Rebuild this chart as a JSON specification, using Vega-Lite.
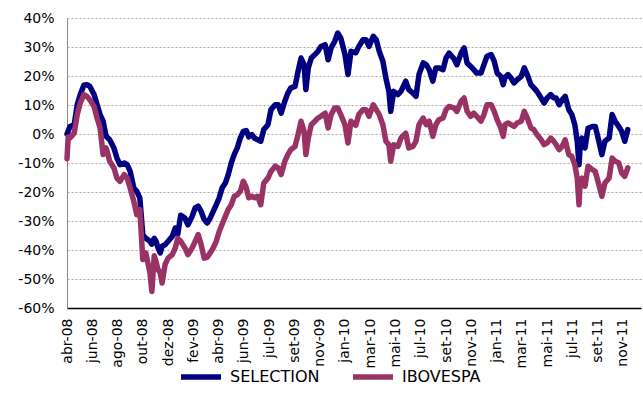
{
  "$schema": "https://vega.github.io/schema/vega-lite/v6.json",
  "width": 574,
  "height": 290,
  "autosize": {"type": "none"},
  "padding": {"left": 67, "top": 18, "right": 2, "bottom": 97},
  "config": {
    "view": {"stroke": null},
    "font": "DejaVu Sans",
    "axis": {"labelFont": "DejaVu Sans", "labelFontSize": 14, "labelColor": "#000000", "title": null}
  },
  "data": {
    "values": [
      {"t":0,"SELECTION":0,"IBOVESPA":-8.5},
      {"t":2,"SELECTION":1,"IBOVESPA":-1},
      {"t":5,"SELECTION":2.6,"IBOVESPA":-1.4},
      {"t":12,"SELECTION":3.2,"IBOVESPA":0.3},
      {"t":17,"SELECTION":10.1,"IBOVESPA":6.7},
      {"t":22,"SELECTION":13.6,"IBOVESPA":10.7},
      {"t":28,"SELECTION":16.8,"IBOVESPA":13.6},
      {"t":33,"SELECTION":17,"IBOVESPA":13},
      {"t":38,"SELECTION":16.4,"IBOVESPA":11.8},
      {"t":45,"SELECTION":13.6,"IBOVESPA":9.5},
      {"t":50,"SELECTION":10.1,"IBOVESPA":5.5},
      {"t":55,"SELECTION":6.7,"IBOVESPA":2.1},
      {"t":60,"SELECTION":4.4,"IBOVESPA":-7.1},
      {"t":65,"SELECTION":-0.8,"IBOVESPA":-4.8},
      {"t":71,"SELECTION":-2,"IBOVESPA":-9.4},
      {"t":78,"SELECTION":-4.8,"IBOVESPA":-11.7},
      {"t":83,"SELECTION":-8.3,"IBOVESPA":-15.2},
      {"t":88,"SELECTION":-10.6,"IBOVESPA":-16.3},
      {"t":95,"SELECTION":-10,"IBOVESPA":-14},
      {"t":100,"SELECTION":-10.6,"IBOVESPA":-15.2},
      {"t":105,"SELECTION":-12.9,"IBOVESPA":-18.6},
      {"t":111,"SELECTION":-18.6,"IBOVESPA":-23.2},
      {"t":116,"SELECTION":-19.8,"IBOVESPA":-27.8},
      {"t":121,"SELECTION":-22,"IBOVESPA":-26},
      {"t":126,"SELECTION":-34.7,"IBOVESPA":-43.3},
      {"t":131,"SELECTION":-36,"IBOVESPA":-41},
      {"t":135,"SELECTION":-36.5,"IBOVESPA":-45},
      {"t":138,"SELECTION":-37,"IBOVESPA":-48},
      {"t":141,"SELECTION":-38,"IBOVESPA":-54.3},
      {"t":145,"SELECTION":-36,"IBOVESPA":-42},
      {"t":148,"SELECTION":-37,"IBOVESPA":-44},
      {"t":151,"SELECTION":-39,"IBOVESPA":-46.6},
      {"t":155,"SELECTION":-41,"IBOVESPA":-48},
      {"t":158,"SELECTION":-38.7,"IBOVESPA":-51.4},
      {"t":163,"SELECTION":-38.2,"IBOVESPA":-45},
      {"t":168,"SELECTION":-37,"IBOVESPA":-42.8},
      {"t":175,"SELECTION":-35.3,"IBOVESPA":-41.6},
      {"t":180,"SELECTION":-32.4,"IBOVESPA":-39.3},
      {"t":184,"SELECTION":-34.7,"IBOVESPA":-36},
      {"t":189,"SELECTION":-28,"IBOVESPA":-37},
      {"t":196,"SELECTION":-29,"IBOVESPA":-39.3},
      {"t":201,"SELECTION":-31.3,"IBOVESPA":-41.6},
      {"t":208,"SELECTION":-28.4,"IBOVESPA":-39.3},
      {"t":213,"SELECTION":-25.5,"IBOVESPA":-37},
      {"t":218,"SELECTION":-24.9,"IBOVESPA":-34.7},
      {"t":223,"SELECTION":-26.7,"IBOVESPA":-38.2},
      {"t":228,"SELECTION":-29.5,"IBOVESPA":-42.8},
      {"t":233,"SELECTION":-30.7,"IBOVESPA":-42.5},
      {"t":238,"SELECTION":-29,"IBOVESPA":-41},
      {"t":243,"SELECTION":-26.7,"IBOVESPA":-39.3},
      {"t":248,"SELECTION":-24.4,"IBOVESPA":-37},
      {"t":253,"SELECTION":-22,"IBOVESPA":-33.6},
      {"t":258,"SELECTION":-18.5,"IBOVESPA":-31},
      {"t":263,"SELECTION":-17,"IBOVESPA":-28.5},
      {"t":268,"SELECTION":-14,"IBOVESPA":-26},
      {"t":273,"SELECTION":-10,"IBOVESPA":-24.4},
      {"t":278,"SELECTION":-7,"IBOVESPA":-21.5},
      {"t":283,"SELECTION":-4.8,"IBOVESPA":-20.9},
      {"t":288,"SELECTION":-1.4,"IBOVESPA":-19.8},
      {"t":293,"SELECTION":0.9,"IBOVESPA":-16.3},
      {"t":298,"SELECTION":1.2,"IBOVESPA":-18.5},
      {"t":302,"SELECTION":-1,"IBOVESPA":-22},
      {"t":307,"SELECTION":-0.2,"IBOVESPA":-21.5},
      {"t":312,"SELECTION":-1.5,"IBOVESPA":-22},
      {"t":317,"SELECTION":-2,"IBOVESPA":-21.5},
      {"t":322,"SELECTION":-2.5,"IBOVESPA":-24.4},
      {"t":327,"SELECTION":1.5,"IBOVESPA":-17},
      {"t":334,"SELECTION":3.2,"IBOVESPA":-15.2},
      {"t":339,"SELECTION":8.4,"IBOVESPA":-12.9},
      {"t":346,"SELECTION":10.1,"IBOVESPA":-11.1},
      {"t":351,"SELECTION":10.1,"IBOVESPA":-11.7},
      {"t":356,"SELECTION":7.2,"IBOVESPA":-14},
      {"t":362,"SELECTION":11.3,"IBOVESPA":-9.4},
      {"t":367,"SELECTION":14.1,"IBOVESPA":-7.1},
      {"t":372,"SELECTION":15.9,"IBOVESPA":-5.4},
      {"t":379,"SELECTION":16.4,"IBOVESPA":-4.3},
      {"t":384,"SELECTION":21.6,"IBOVESPA":-0.2},
      {"t":389,"SELECTION":26.2,"IBOVESPA":4.4},
      {"t":394,"SELECTION":23.9,"IBOVESPA":0.9},
      {"t":397,"SELECTION":15.3,"IBOVESPA":-7.1},
      {"t":401,"SELECTION":22.8,"IBOVESPA":-1.4},
      {"t":406,"SELECTION":26.2,"IBOVESPA":3.2},
      {"t":412,"SELECTION":27.4,"IBOVESPA":4.4},
      {"t":417,"SELECTION":28.5,"IBOVESPA":5.5},
      {"t":422,"SELECTION":30.2,"IBOVESPA":6.1},
      {"t":429,"SELECTION":30.8,"IBOVESPA":7.2},
      {"t":434,"SELECTION":25.6,"IBOVESPA":2.1},
      {"t":439,"SELECTION":29.7,"IBOVESPA":6.7},
      {"t":445,"SELECTION":32,"IBOVESPA":9},
      {"t":450,"SELECTION":34.8,"IBOVESPA":9},
      {"t":455,"SELECTION":33.1,"IBOVESPA":6.7},
      {"t":462,"SELECTION":27.4,"IBOVESPA":3.2},
      {"t":467,"SELECTION":20.5,"IBOVESPA":-3.1},
      {"t":472,"SELECTION":28.5,"IBOVESPA":4.4},
      {"t":480,"SELECTION":28,"IBOVESPA":3},
      {"t":485,"SELECTION":30.2,"IBOVESPA":6.7},
      {"t":492,"SELECTION":32.5,"IBOVESPA":8.4},
      {"t":497,"SELECTION":32.5,"IBOVESPA":8.4},
      {"t":502,"SELECTION":30.2,"IBOVESPA":6.1},
      {"t":509,"SELECTION":33.7,"IBOVESPA":10.1},
      {"t":514,"SELECTION":32.5,"IBOVESPA":8.4},
      {"t":519,"SELECTION":28.5,"IBOVESPA":6.7},
      {"t":525,"SELECTION":25.1,"IBOVESPA":3.2},
      {"t":530,"SELECTION":19.3,"IBOVESPA":-2.5},
      {"t":535,"SELECTION":14.7,"IBOVESPA":-3.7},
      {"t":538,"SELECTION":7.8,"IBOVESPA":-9.4},
      {"t":543,"SELECTION":14.7,"IBOVESPA":-3.7},
      {"t":550,"SELECTION":13.6,"IBOVESPA":-4.3},
      {"t":555,"SELECTION":14.7,"IBOVESPA":-1.4},
      {"t":563,"SELECTION":18.2,"IBOVESPA":0.3},
      {"t":568,"SELECTION":15.3,"IBOVESPA":-4.8},
      {"t":575,"SELECTION":14.1,"IBOVESPA":-4.3},
      {"t":580,"SELECTION":13,"IBOVESPA":-2.5},
      {"t":585,"SELECTION":20.5,"IBOVESPA":3.2},
      {"t":592,"SELECTION":24.5,"IBOVESPA":5.5},
      {"t":597,"SELECTION":23.9,"IBOVESPA":3.2},
      {"t":602,"SELECTION":22.2,"IBOVESPA":4.4},
      {"t":608,"SELECTION":18.2,"IBOVESPA":-0.8},
      {"t":613,"SELECTION":22.8,"IBOVESPA":3.2},
      {"t":618,"SELECTION":22.8,"IBOVESPA":4.9},
      {"t":625,"SELECTION":22.2,"IBOVESPA":5.5},
      {"t":630,"SELECTION":26.2,"IBOVESPA":8.4},
      {"t":635,"SELECTION":27.9,"IBOVESPA":9.5},
      {"t":643,"SELECTION":26,"IBOVESPA":9},
      {"t":648,"SELECTION":23.9,"IBOVESPA":7.8},
      {"t":655,"SELECTION":27.9,"IBOVESPA":11.3},
      {"t":660,"SELECTION":29.7,"IBOVESPA":12.4},
      {"t":665,"SELECTION":24.5,"IBOVESPA":7.8},
      {"t":671,"SELECTION":23.3,"IBOVESPA":6.1},
      {"t":676,"SELECTION":22.2,"IBOVESPA":7.2},
      {"t":681,"SELECTION":21,"IBOVESPA":6.1},
      {"t":688,"SELECTION":21,"IBOVESPA":4.4},
      {"t":693,"SELECTION":23.9,"IBOVESPA":6.7},
      {"t":698,"SELECTION":26.8,"IBOVESPA":10.1},
      {"t":705,"SELECTION":27.4,"IBOVESPA":10.1},
      {"t":710,"SELECTION":25.1,"IBOVESPA":7.8},
      {"t":715,"SELECTION":21,"IBOVESPA":4.9},
      {"t":721,"SELECTION":19.9,"IBOVESPA":2.1},
      {"t":725,"SELECTION":17,"IBOVESPA":-0.8},
      {"t":728,"SELECTION":19.5,"IBOVESPA":3.2},
      {"t":733,"SELECTION":20.5,"IBOVESPA":3.8},
      {"t":738,"SELECTION":19.3,"IBOVESPA":3.2},
      {"t":743,"SELECTION":17.6,"IBOVESPA":2.6},
      {"t":748,"SELECTION":18.7,"IBOVESPA":3.8},
      {"t":755,"SELECTION":19.9,"IBOVESPA":4.4},
      {"t":760,"SELECTION":22.8,"IBOVESPA":7.8},
      {"t":765,"SELECTION":20.5,"IBOVESPA":5.5},
      {"t":771,"SELECTION":17,"IBOVESPA":2.1},
      {"t":776,"SELECTION":15.9,"IBOVESPA":1.5},
      {"t":781,"SELECTION":14.7,"IBOVESPA":-0.2},
      {"t":788,"SELECTION":12.4,"IBOVESPA":-2},
      {"t":793,"SELECTION":10.7,"IBOVESPA":-3.7},
      {"t":798,"SELECTION":12.4,"IBOVESPA":-3.1},
      {"t":804,"SELECTION":13.6,"IBOVESPA":-1.4},
      {"t":809,"SELECTION":12.5,"IBOVESPA":-2.5},
      {"t":813,"SELECTION":12.4,"IBOVESPA":-3.7},
      {"t":818,"SELECTION":10.1,"IBOVESPA":-5.4},
      {"t":823,"SELECTION":11.8,"IBOVESPA":-4.3},
      {"t":828,"SELECTION":13,"IBOVESPA":-2},
      {"t":834,"SELECTION":8.4,"IBOVESPA":-7.1},
      {"t":839,"SELECTION":6.7,"IBOVESPA":-7.7},
      {"t":844,"SELECTION":3.2,"IBOVESPA":-10.6},
      {"t":848,"SELECTION":-2.5,"IBOVESPA":-15.2},
      {"t":851,"SELECTION":-10.6,"IBOVESPA":-24.4},
      {"t":853,"SELECTION":-3.7,"IBOVESPA":-16.3},
      {"t":856,"SELECTION":-1.4,"IBOVESPA":-15.2},
      {"t":861,"SELECTION":-4.8,"IBOVESPA":-18},
      {"t":866,"SELECTION":2,"IBOVESPA":-11.1},
      {"t":873,"SELECTION":2.6,"IBOVESPA":-12.3},
      {"t":878,"SELECTION":2.6,"IBOVESPA":-12.9},
      {"t":884,"SELECTION":-2.5,"IBOVESPA":-17.5},
      {"t":889,"SELECTION":-7.1,"IBOVESPA":-21.5},
      {"t":894,"SELECTION":-2.5,"IBOVESPA":-16.9},
      {"t":901,"SELECTION":-1.4,"IBOVESPA":-15.2},
      {"t":906,"SELECTION":6.7,"IBOVESPA":-8.3},
      {"t":911,"SELECTION":4.4,"IBOVESPA":-9.4},
      {"t":917,"SELECTION":2.6,"IBOVESPA":-9.9},
      {"t":922,"SELECTION":0.9,"IBOVESPA":-13.5},
      {"t":927,"SELECTION":-2.5,"IBOVESPA":-14.6},
      {"t":932,"SELECTION":1.5,"IBOVESPA":-11.7}
    ]
  },
  "transform": [{"fold": ["SELECTION", "IBOVESPA"], "as": ["series", "value"]}],
  "encoding": {
    "x": {
      "field": "t", "type": "quantitative",
      "scale": {"domain": [0, 954], "nice": false, "zero": false},
      "axis": {
        "values": [0,42,84,126,168,210,252,294,336,378,420,462,504,546,588,630,672,714,756,798,840,882,924],
        "labelExpr": "['abr-08','jun-08','ago-08','out-08','dez-08','fev-09','abr-09','jun-09','jul-09','set-09','nov-09','jan-10','mar-10','mai-10','jul-10','set-10','nov-10','jan-11','mar-11','mai-11','jul-11','set-11','nov-11'][round(datum.value/42)]",
        "labelAngle": 270,
        "labelPadding": 10,
        "ticks": false,
        "grid": false,
        "domainColor": "#000000",
        "domainWidth": 1.5,
        "labelOverlap": false,
        "labelBound": false,
        "labelFlush": false
      }
    },
    "y": {
      "field": "value", "type": "quantitative",
      "scale": {"domain": [-60, 40], "nice": false},
      "axis": {
        "values": [-60,-50,-40,-30,-20,-10,0,10,20,30,40],
        "labelExpr": "(datum.value < 0 ? '-' : '') + abs(datum.value) + '%'",
        "ticks": false,
        "labelPadding": 13,
        "domainColor": "#888888",
        "grid": true,
        "gridColor": "#aaaaaa",
        "gridDash": [2, 2],
        "gridWidth": 1,
        "labelOverlap": false,
        "labelFlush": false
      }
    },
    "color": {
      "field": "series", "type": "nominal",
      "scale": {"domain": ["SELECTION", "IBOVESPA"], "range": ["#000080", "#993366"]},
      "legend": {
        "title": null,
        "orient": "none",
        "legendX": 111,
        "legendY": 336,
        "direction": "horizontal",
        "symbolType": "stroke",
        "symbolSize": 1600,
        "symbolStrokeWidth": 5.5,
        "labelFont": "DejaVu Sans",
        "labelFontSize": 16,
        "labelColor": "#000000",
        "labelOffset": 6,
        "columnPadding": 22
      }
    }
  },
  "layer": [
    {
      "transform": [{"filter": "datum.series === 'SELECTION'"}],
      "mark": {"type": "line", "strokeWidth": 5.5, "strokeJoin": "round", "strokeCap": "round"}
    },
    {
      "transform": [{"filter": "datum.series === 'IBOVESPA'"}],
      "mark": {"type": "line", "strokeWidth": 5.5, "strokeJoin": "round", "strokeCap": "round"}
    }
  ]
}
